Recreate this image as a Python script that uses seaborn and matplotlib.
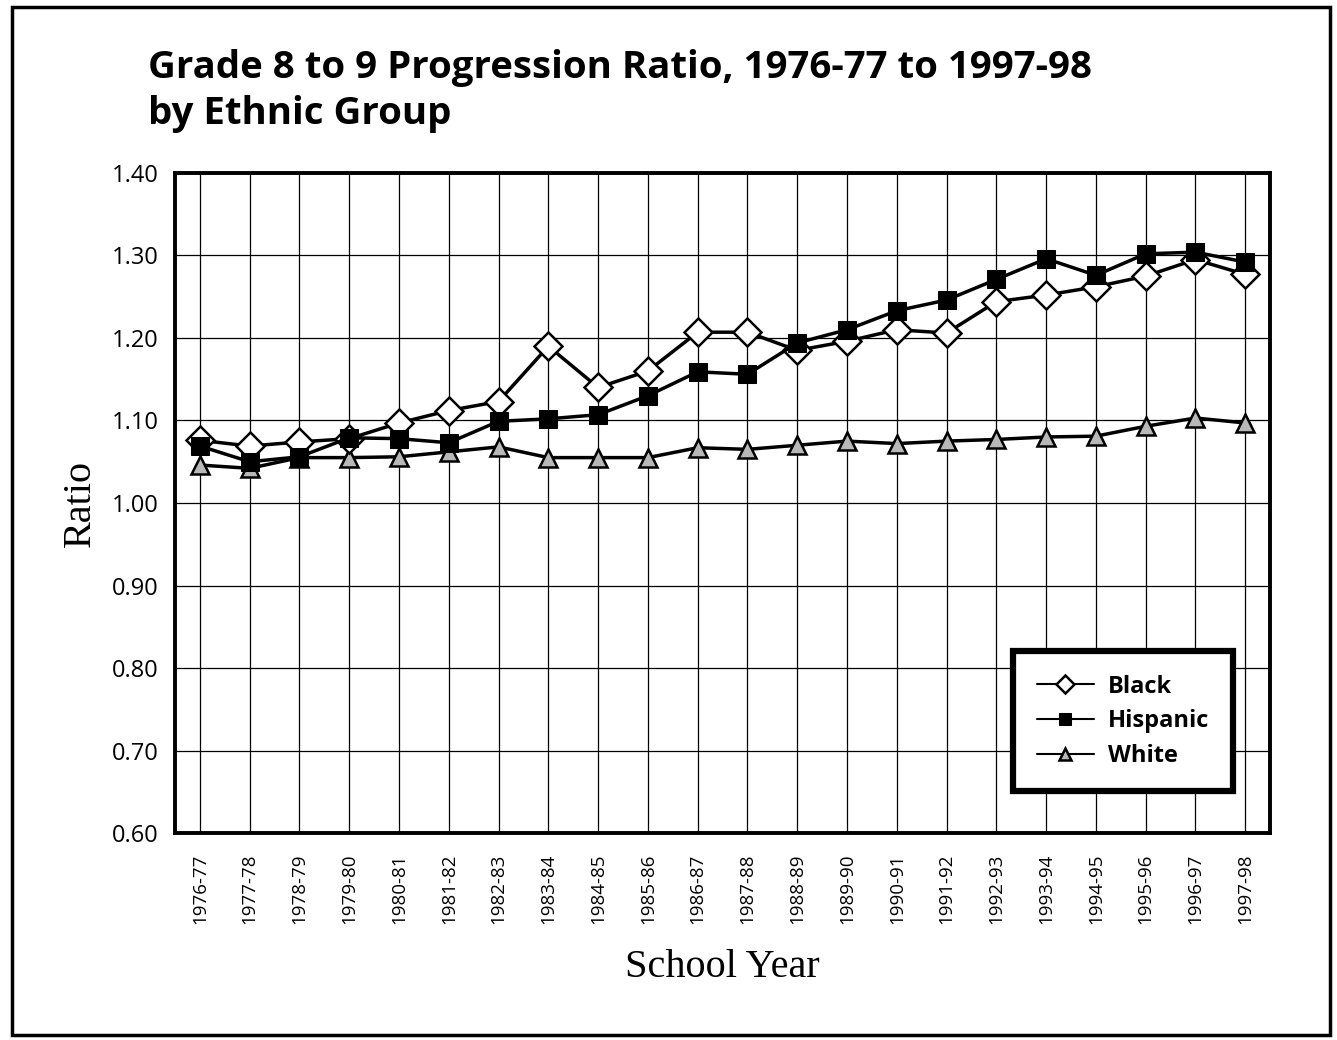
import matplotlib
matplotlib.use("Agg")
import matplotlib.pyplot as plt
import seaborn as sns
import pandas as pd
from matplotlib.patches import Rectangle
from matplotlib.ticker import FixedLocator, FormatStrFormatter

years = ["1976-77", "1977-78", "1978-79", "1979-80", "1980-81", "1981-82", "1982-83",
         "1983-84", "1984-85", "1985-86", "1986-87", "1987-88", "1988-89", "1989-90",
         "1990-91", "1991-92", "1992-93", "1993-94", "1994-95", "1995-96", "1996-97",
         "1997-98"]
black = [1.076, 1.069, 1.074, 1.078, 1.097, 1.112, 1.123, 1.190, 1.140, 1.160, 1.207,
         1.207, 1.185, 1.196, 1.210, 1.206, 1.244, 1.252, 1.262, 1.275, 1.295, 1.277]
hispanic = [1.069, 1.050, 1.056, 1.079, 1.078, 1.073, 1.099, 1.102, 1.107, 1.130, 1.159,
            1.156, 1.194, 1.210, 1.233, 1.246, 1.271, 1.296, 1.276, 1.302, 1.304, 1.292]
white = [1.046, 1.042, 1.055, 1.055, 1.056, 1.062, 1.068, 1.055, 1.055, 1.055, 1.067,
         1.065, 1.070, 1.075, 1.072, 1.075, 1.077, 1.080, 1.081, 1.093, 1.103, 1.097]

sns.set_theme(style="white")
plt.rcParams['font.family'] = ['Open Sans', 'DejaVu Sans']
plt.rcParams.update({"text.color": "black", "axes.labelcolor": "black",
                     "xtick.color": "black", "ytick.color": "black"})

fig = plt.figure(figsize=(13.37, 10.40), dpi=100)
ax = fig.add_axes([0.1309, 0.199, 0.8191, 0.6347])

df = pd.DataFrame({"year": years, "Black": black, "Hispanic": hispanic, "White": white})

sns.lineplot(data=df, x="year", y="Black", ax=ax, color="black", lw=2.5, marker="D",
             markersize=14, markerfacecolor="white", markeredgecolor="black",
             markeredgewidth=1.8, label="Black", zorder=5)
sns.lineplot(data=df, x="year", y="Hispanic", ax=ax, color="black", lw=2.5, marker="s",
             markersize=13, markerfacecolor="black", markeredgecolor="black",
             label="Hispanic", zorder=6)
sns.lineplot(data=df, x="year", y="White", ax=ax, color="black", lw=2.5, marker="^",
             markersize=13, markerfacecolor="#b8b8b8", markeredgecolor="black",
             markeredgewidth=1.8, label="White", zorder=4)

ax.set_xlim(-0.5, len(years) - 0.5)
ax.set_ylim(0.6, 1.4)
ax.yaxis.set_major_locator(FixedLocator([0.6 + 0.1 * i for i in range(9)]))
ax.yaxis.set_major_formatter(FormatStrFormatter("%.2f"))

ax.set_xticks(range(len(years)))
ax.set_xticklabels(years, rotation=90, fontsize=13.5)
ax.set_xticks([i + 0.5 for i in range(len(years) - 1)], minor=True)
ax.tick_params(axis="x", which="major", length=3, width=1, direction="out", color="black", pad=12)
ax.tick_params(axis="x", which="minor", length=8, width=1.5, direction="inout", color="black")
ax.tick_params(axis="y", which="major", length=8, width=1.5, direction="inout", color="black",
               labelsize=17, pad=8)

ax.grid(True, which="major", axis="both", color="black", lw=0.9)
ax.set_axisbelow(True)

for s in ax.spines.values():
    s.set_visible(True)
    s.set_color("black")
    s.set_linewidth(2.8)

ax.set_xlabel("School Year", family=["Liberation Serif", "DejaVu Serif"], fontsize=29, labelpad=18)
ax.set_ylabel("Ratio", family=["Liberation Serif", "DejaVu Serif"], fontsize=29, labelpad=9)

leg = ax.legend(loc="lower right", bbox_to_anchor=(0.966, 0.063), frameon=True,
                fancybox=False, edgecolor="black", framealpha=1,
                prop={"weight": "bold", "size": 17}, borderpad=1.0, labelspacing=0.45,
                handlelength=2.4, handletextpad=0.6, borderaxespad=0)
leg.get_frame().set_linewidth(4.5)
for h in leg.legend_handles:
    h.set_linewidth(1.5)
    h.set_markersize(9)

fig.text(148 / 1337, 1 - 49 / 1040, "Grade 8 to 9 Progression Ratio, 1976-77 to 1997-98\nby Ethnic Group",
         ha="left", va="top", fontsize=27.6, fontweight="bold", linespacing=1.27)

fig.patches.append(Rectangle((12 / 1337, 5 / 1040), 1318 / 1337, 1028 / 1040,
                             transform=fig.transFigure, fill=False, edgecolor="black", lw=2.5))

fig.savefig("out.png", dpi=100)
